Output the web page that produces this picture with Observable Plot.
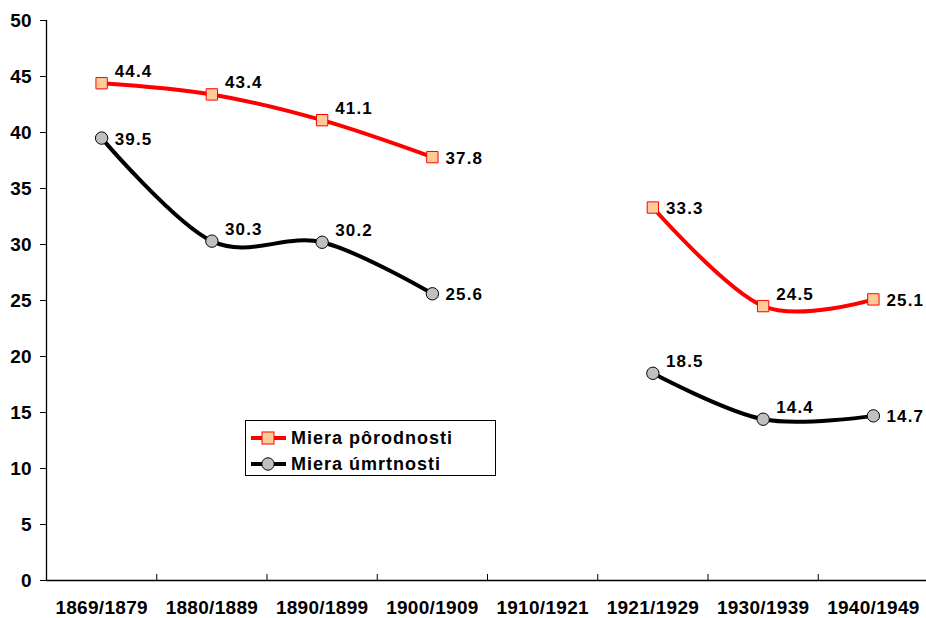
<!DOCTYPE html>
<html>
<head>
<meta charset="utf-8">
<script src="https://cdn.jsdelivr.net/npm/d3@7"></script>
<script src="https://cdn.jsdelivr.net/npm/@observablehq/plot@0.6"></script>
<style>
  html, body { margin: 0; padding: 0; background: #fff; }
  #wrap { position: relative; width: 926px; height: 618px; font-family: "Liberation Sans", Arial, sans-serif; }
  g[aria-label="text"] text { letter-spacing: 1.2px; }
  g[aria-label="x-axis tick label"] text { letter-spacing: 0.3px; }
  #legend { position: absolute; left: 245px; top: 420px; width: 251px; height: 56px; box-sizing: border-box;
            border: 1px solid #000; background: #fff; }
  .row { position: absolute; left: 0; height: 20px; width: 100%; }
  .row svg { position: absolute; left: 4px; top: 0; }
  .row span { position: absolute; left: 45px; top: 0; line-height: 20px; font-weight: bold; font-size: 18px; letter-spacing: 1px; color: #000; white-space: nowrap; }
</style>
</head>
<body>
<div id="wrap"></div>
<script>
// ---- data ----
const categories = ["1869/1879", "1880/1889", "1890/1899", "1900/1909", "1910/1921", "1921/1929", "1930/1939", "1940/1949"];
const birthRate = [44.4, 43.4, 41.1, 37.8, null, 33.3, 24.5, 25.1];
const deathRate = [39.5, 30.3, 30.2, 25.6, null, 18.5, 14.4, 14.7];
const yTicks = [0, 5, 10, 15, 20, 25, 30, 35, 40, 45, 50];
const seriesNames = ["Miera pôrodnosti", "Miera úmrtnosti"];

// label placement (style): true = above-right, false = right
const birthAbove = [true, true, true, false, false, false, true, false];
const deathAbove = [false, true, true, false, false, true, true, false];

const rows = categories.map((c, i) => ({i, c, birth: birthRate[i], death: deathRate[i], bA: birthAbove[i], dA: deathAbove[i]}));
const xDomain = [-0.5, categories.length - 0.5];
const boundaries = d3.range(1, categories.length).map(k => k - 0.5);

const RED = "#ff0000", PEACH = "#ffcc99", GRAY = "#c0c0c0";
const fmt = v => v == null ? null : v.toFixed(1);

const labelOpts = {textAnchor: "start", dx: 13, fontSize: 17, fontWeight: "bold", fill: "#000"};

const chart = Plot.plot({
  width: 926,
  height: 618,
  marginTop: 20,
  marginBottom: 38,
  marginLeft: 46,
  marginRight: 0,
  style: {fontFamily: "'Liberation Sans', Arial, sans-serif", fontSize: "19px", fontWeight: "bold", color: "#000", background: "#fff", overflow: "visible"},
  x: {domain: xDomain, range: [46, 928], axis: null, label: null},
  y: {domain: [0, 50], axis: null, label: null},
  marks: [
    Plot.axisY(yTicks, {tickSize: 6, tickPadding: 9, tickFormat: d => String(d), fontSize: 19, fontWeight: "bold", label: null}),
    Plot.axisX(d3.range(categories.length), {tickSize: 0, tickPadding: 20, tickFormat: i => categories[i], fontSize: 19, fontWeight: "bold", label: null}),
    Plot.ruleX(boundaries, {insetTop: 554, stroke: "#000", strokeWidth: 1}),
    Plot.ruleY([0], {stroke: "#000", strokeWidth: 1.3}),
    Plot.ruleX([xDomain[0]], {y1: 0, y2: 50, stroke: "#000", strokeWidth: 1.3}),
    Plot.line(rows, {x: "i", y: "birth", stroke: RED, strokeWidth: 4, curve: "cardinal"}),
    Plot.line(rows, {x: "i", y: "death", stroke: "#000", strokeWidth: 4, curve: "cardinal"}),
    Plot.dot(rows, {x: "i", y: "birth", symbol: "square", r: 6.4, fill: PEACH, stroke: RED, strokeWidth: 1}),
    Plot.dot(rows, {x: "i", y: "death", r: 6.2, fill: GRAY, stroke: "#000", strokeWidth: 1}),
    Plot.text(rows.filter(d => d.birth != null && d.bA), {x: "i", y: "birth", text: d => fmt(d.birth), dy: -12, ...labelOpts}),
    Plot.text(rows.filter(d => d.birth != null && !d.bA), {x: "i", y: "birth", text: d => fmt(d.birth), dy: 1, ...labelOpts}),
    Plot.text(rows.filter(d => d.death != null && d.dA), {x: "i", y: "death", text: d => fmt(d.death), dy: -12, ...labelOpts}),
    Plot.text(rows.filter(d => d.death != null && !d.dA), {x: "i", y: "death", text: d => fmt(d.death), dy: 1, ...labelOpts})
  ]
});

const wrap = document.getElementById("wrap");
wrap.appendChild(chart);

// legend
const legend = document.createElement("div");
legend.id = "legend";
const swatches = [
  {name: seriesNames[0], stroke: RED, marker: `<rect x="12" y="4" width="12" height="12" fill="${PEACH}" stroke="${RED}" stroke-width="1"/>`},
  {name: seriesNames[1], stroke: "#000", marker: `<circle cx="18" cy="10" r="6.2" fill="${GRAY}" stroke="#000" stroke-width="1"/>`}
];
swatches.forEach((s, k) => {
  const row = document.createElement("div");
  row.className = "row";
  row.style.top = (7 + k * 26) + "px";
  row.innerHTML = `<svg width="38" height="20"><line x1="1" x2="36" y1="10" y2="10" stroke="${s.stroke}" stroke-width="4"/>${s.marker}</svg><span>${s.name}</span>`;
  legend.appendChild(row);
});
wrap.appendChild(legend);
</script>
</body>
</html>
